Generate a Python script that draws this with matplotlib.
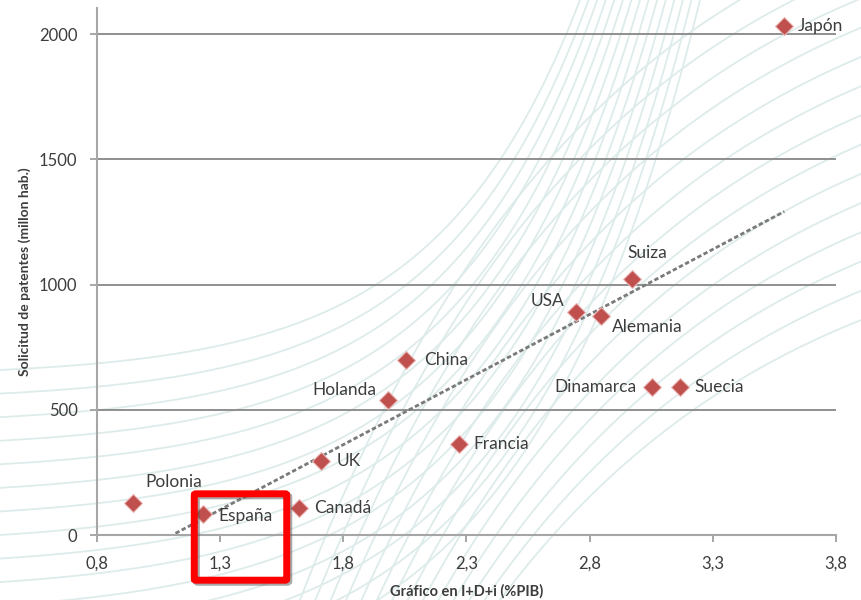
import numpy as np
import matplotlib
matplotlib.use("Agg")
import matplotlib.pyplot as plt
from matplotlib.lines import Line2D
from matplotlib.patches import FancyBboxPatch
import matplotlib.patheffects as pe

plt.rcParams['font.family'] = ['Lato', 'DejaVu Sans']

# --- data -------------------------------------------------------------
paises = ["Japón", "Suiza", "USA", "Alemania", "China", "Holanda", "Dinamarca",
          "Suecia", "Francia", "UK", "Polonia", "España", "Canadá"]
gasto_idi = [3.59, 2.97, 2.745, 2.846, 2.055, 1.98, 3.053,
             3.167, 2.27, 1.71, 0.946, 1.23, 1.62]
patentes = [2032, 1022, 890, 874, 699, 539, 591,
            591, 363, 295, 128, 84, 108]

# label offsets (pixels) and alignment for each country
label_pos = {
    "Japón":     (13, 0, "left"),
    "Suiza":     (-4, 26, "left"),
    "USA":       (-12, 11, "right"),
    "Alemania":  (11, -11, "left"),
    "China":     (18, 0, "left"),
    "Holanda":   (-11, 10, "right"),
    "Dinamarca": (-15, 0, "right"),
    "Suecia":    (14, 0, "left"),
    "Francia":   (14, 0, "left"),
    "UK":        (15, 0, "left"),
    "Polonia":   (12, 21, "left"),
    "España":    (15, -2, "left"),
    "Canadá":    (15, 0, "left"),
}

xticks = [0.8, 1.3, 1.8, 2.3, 2.8, 3.3, 3.8]
xtick_labels = ["0,8", "1,3", "1,8", "2,3", "2,8", "3,3", "3,8"]
yticks = [0, 500, 1000, 1500, 2000]

W, H = 861, 600
fig = plt.figure(figsize=(W / 100, H / 100), dpi=100)

# --- decorative background swirl --------------------------------------
swirl_color = "#deebeb"
xs_px = np.linspace(0, W, 500)


def swirl(xp, yp):
    m = (yp > -10) & (yp < H + 10)
    fig.add_artist(Line2D(xp[m] / W, 1 - yp[m] / H, transform=fig.transFigure,
                          color=swirl_color, lw=1.3, zorder=-5))


# convex sweep: flat on the left, rising steeply to the top edge
for y0, x_end in zip(np.linspace(370, 700, 15), np.linspace(580, 700, 15)):
    s = x_end / 4.0
    y = y0 * (1 - (np.exp(xs_px / s) - 1) / (np.exp(x_end / s) - 1))
    swirl(xs_px, y)

# concave sweep: rising from the bottom edge, flattening to the right edge
for x_b, y_r in zip(np.linspace(300, 500, 14), np.linspace(-60, 320, 14)):
    xb = np.linspace(x_b, W, 400)
    s = 300.0
    y = H - (H - y_r) * (1 - np.exp(-(xb - x_b) / s)) / (1 - np.exp(-(W - x_b) / s))
    swirl(xb, y)

# --- axes -------------------------------------------------------------
ax = fig.add_axes([97 / W, 1 - 535 / H, (836 - 97) / W, (535 - 8) / H])
ax.patch.set_alpha(0)
ax.set_xlim(0.8, 3.8)
ax.set_ylim(0, 2104)

ax.set_xticks(xticks)
ax.set_xticklabels(xtick_labels)
ax.set_yticks(yticks)
ax.set_yticklabels([str(v) for v in yticks])

txt_color = "#3d3d3d"
ax.tick_params(axis="both", direction="out", length=5, width=1.3,
               color="#a0a0a0", labelcolor=txt_color, labelsize=12)
ax.tick_params(axis="x", pad=10)
ax.tick_params(axis="y", pad=9)

for side in ("top", "right"):
    ax.spines[side].set_visible(False)
for side in ("left", "bottom"):
    ax.spines[side].set_color("#a6a6a6")
    ax.spines[side].set_linewidth(1.5)

for v in yticks[1:]:
    ax.axhline(v, color="#8f8f8f", lw=1.4, zorder=1)

ax.set_xlabel("Gráfico en I+D+i (%PIB)", fontsize=10.5, fontweight="bold",
              color=txt_color, labelpad=9)
ax.set_ylabel("Solicitud de patentes (millon hab.)", fontsize=10,
              fontweight="bold", color=txt_color, labelpad=6)

# --- linear trend ------------------------------------------------------
gx = np.array(gasto_idi)
gy = np.array(patentes)
slope, intercept = np.polyfit(gx, gy, 1)
tx = np.linspace(gx.min(), gx.max(), 200)
ty = slope * tx + intercept
keep = ty >= 0
ax.plot(tx[keep], ty[keep], color="#7a7a7a", lw=2.0,
        linestyle=(0, (1.6, 0.9)), zorder=2)

# --- points and labels -------------------------------------------------
ax.plot(gasto_idi, patentes, linestyle="none", marker="D", markersize=9.5,
        markerfacecolor="#c0504d", markeredgecolor="#e9b7b5",
        markeredgewidth=0.8, zorder=4)

for name, x, y in zip(paises, gasto_idi, patentes):
    dx, dy, ha = label_pos[name]
    ax.annotate(name, (x, y), xytext=(dx, dy), textcoords="offset pixels",
                ha=ha, va="center", fontsize=12.5, color=txt_color, zorder=5)

# --- highlight box -----------------------------------------------------
box = FancyBboxPatch((196 / W, 1 - 579 / H), (285 - 196) / W, (579 - 495) / H,
                     boxstyle="round,pad=0.002", transform=fig.transFigure,
                     facecolor="none", edgecolor="#ff0000", linewidth=5,
                     zorder=10,
                     path_effects=[pe.SimpleLineShadow(offset=(1.5, -1.5),
                                                        shadow_color="#555555",
                                                        alpha=0.5),
                                   pe.Normal()])
fig.add_artist(box)

fig.savefig("out.png", dpi=100)
